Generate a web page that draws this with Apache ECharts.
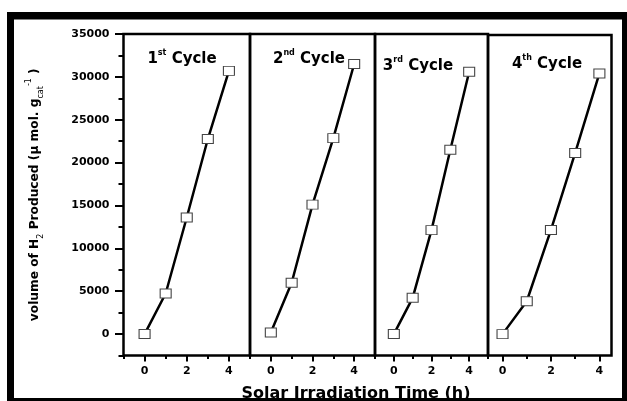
<!DOCTYPE html>
<html>
<head>
<meta charset="utf-8">
<script src="https://cdn.jsdelivr.net/npm/echarts@6/dist/echarts.min.js"></script>
<style>html,body{margin:0;padding:0;background:#fff;}#c{width:627px;height:401px;}</style>
</head>
<body>
<div id="c"></div>
<script>
const hours = [0, 1, 2, 3, 4];
const cycle1 = [0, 4730, 13600, 22750, 30700];
const cycle2 = [190, 5980, 15100, 22850, 31500];
const cycle3 = [0, 4230, 12120, 21500, 30600];
const cycle4 = [0, 3850, 12190, 21200, 30500];
const cycleNames = ['{n|1}{s|st}{n| Cycle}', '{n|2}{s|nd}{n| Cycle}', '{n|3}{s|rd}{n| Cycle}', '{n|4}{s|th}{n| Cycle}'];
const yTicks = [0, 5000, 10000, 15000, 20000, 25000, 30000, 35000];
const yMinorTicks = [-2500, 2500, 7500, 12500, 17500, 22500, 27500, 32500];
const xTicks = [0, 2, 4];
const xMinorTicks = [[-1, 1, 3, 5], [-1, 1, 3, 5], [-1, 1, 3, 5], [1, 3]];
const xRanges = [[-1, 5], [-1, 5], [-1, 5], [-0.6, 4.5]];
const yAxisTitle = '{a|volume of H}{sub|2}{a| Produced (μ mol. g}{sub|cat}{sup|-1}{a| )}';
const xAxisTitle = 'Solar Irradiation Time (h)';

const FONT = 'DejaVu Sans';
const allData = [cycle1, cycle2, cycle3, cycle4];
const grids = [
  {left: 123.5, top: 34, width: 126.5, height: 321.5},
  {left: 250, top: 34, width: 125, height: 321.5},
  {left: 375, top: 34, width: 113, height: 321.5},
  {left: 488, top: 35, width: 123.5, height: 320.5}
];
const titlePos = [[177, 44], [304, 44], [413, 51], [542, 49]];

const xAxes = [], yAxes = [], series = [];
grids.forEach((g, i) => {
  xAxes.push({
    type: 'value', gridIndex: i, min: xRanges[i][0], max: xRanges[i][1], position: 'bottom',
    axisLine: {show: false, onZero: false}, splitLine: {show: false},
    axisTick: {show: true, customValues: xTicks, length: 6, lineStyle: {color: '#000', width: 2}},
    axisLabel: {show: true, customValues: xTicks, margin: 10, color: '#000', fontFamily: FONT, fontWeight: 'bold', fontSize: 11, formatter: v => String(v)}
  });
  xAxes.push({
    type: 'value', gridIndex: i, min: xRanges[i][0], max: xRanges[i][1], position: 'bottom',
    axisLine: {show: false, onZero: false}, splitLine: {show: false},
    axisTick: {show: true, customValues: xMinorTicks[i], length: 3.5, lineStyle: {color: '#000', width: 2}},
    axisLabel: {show: false}
  });
  const first = i === 0;
  yAxes.push({
    type: 'value', gridIndex: i, min: -2500, max: 35000, position: 'left',
    axisLine: {show: false, onZero: false}, splitLine: {show: false},
    axisTick: {show: first, customValues: yTicks, length: 8.5, lineStyle: {color: '#000', width: 2}},
    axisLabel: {show: first, customValues: yTicks, margin: 14, color: '#000', fontFamily: FONT, fontWeight: 'bold', fontSize: 11, formatter: v => String(v)},
    name: first ? yAxisTitle : '', nameLocation: 'middle', nameGap: 79, nameRotate: 90,
    nameTextStyle: {
      rich: {
        a: {fontFamily: FONT, fontWeight: 'bold', fontSize: 12.2, color: '#000', lineHeight: 20, verticalAlign: 'middle'},
        sub: {fontFamily: FONT, fontWeight: 'normal', fontSize: 8, color: '#000', lineHeight: 9, verticalAlign: 'bottom'},
        sup: {fontFamily: FONT, fontWeight: 'normal', fontSize: 8, color: '#000', lineHeight: 9, verticalAlign: 'top'}
      }
    }
  });
  yAxes.push({
    type: 'value', gridIndex: i, min: -2500, max: 35000, position: 'left',
    axisLine: {show: false, onZero: false}, splitLine: {show: false},
    axisTick: {show: first, customValues: yMinorTicks, length: 5, lineStyle: {color: '#000', width: 2}},
    axisLabel: {show: false}
  });
  series.push({
    type: 'line', xAxisIndex: i * 2, yAxisIndex: i * 2,
    data: hours.map((h, k) => [h, allData[i][k]]),
    symbol: 'rect', symbolSize: [11, 9], showAllSymbol: true,
    itemStyle: {color: '#fff', borderColor: '#444', borderWidth: 1},
    lineStyle: {color: '#000', width: 2.5},
    emphasis: {disabled: true}, animation: false
  });
});

const titles = cycleNames.map((t, i) => ({
  text: t, left: titlePos[i][0], top: titlePos[i][1], textAlign: 'center',
  textStyle: {
    rich: {
      n: {fontFamily: FONT, fontWeight: 'bold', fontSize: 15, color: '#000', lineHeight: 20, verticalAlign: 'middle'},
      s: {fontFamily: FONT, fontWeight: 'bold', fontSize: 8, color: '#000', lineHeight: 10, verticalAlign: 'top'}
    }
  }
}));
titles.push({
  text: xAxisTitle, left: 351, top: 381, textAlign: 'center',
  textStyle: {fontFamily: FONT, fontWeight: 'bold', fontSize: 16, color: '#000'}
});

const chart = echarts.init(document.getElementById('c'));
chart.setOption({
  animation: false,
  backgroundColor: '#fff',
  title: titles,
  grid: grids.map(g => Object.assign({show: true, borderColor: '#000', borderWidth: 2.5, backgroundColor: 'transparent', containLabel: false}, g)),
  xAxis: xAxes,
  yAxis: yAxes,
  series: series,
  graphic: [
    {type: 'rect', shape: {x: 7, y: 12, width: 620, height: 7.5}, style: {fill: '#000'}, silent: true},
    {type: 'rect', shape: {x: 7, y: 12, width: 7, height: 389}, style: {fill: '#000'}, silent: true},
    {type: 'rect', shape: {x: 622, y: 12, width: 5, height: 389}, style: {fill: '#000'}, silent: true},
    {type: 'rect', shape: {x: 7, y: 398, width: 620, height: 3}, style: {fill: '#000'}, silent: true}
  ]
});
</script>
</body>
</html>
